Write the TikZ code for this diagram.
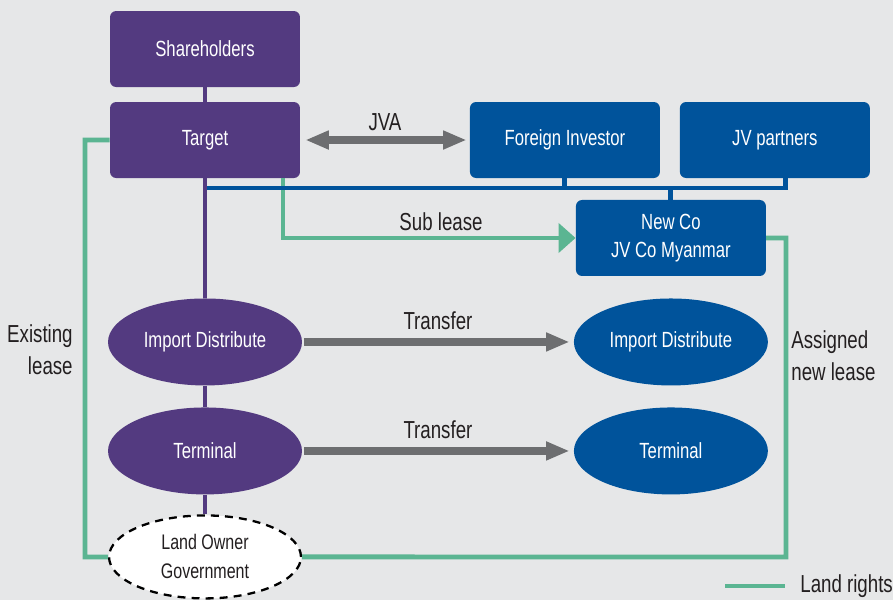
\documentclass[tikz,border=0pt]{standalone}
\usepackage{fontspec}
\setmainfont{Liberation Sans}[FakeStretch=0.76]
\usetikzlibrary{positioning}
\usetikzlibrary{shapes.geometric}
\usetikzlibrary{arrows.meta}
\definecolor{bgc}{HTML}{E6E7E8}
\definecolor{purp}{HTML}{533A80}
\definecolor{navy}{HTML}{00539B}
\definecolor{lgreen}{HTML}{5BB592}
\definecolor{dgray}{HTML}{6D6E70}
\definecolor{txt}{HTML}{231F20}
\tikzset{rbox/.style={rounded corners=3.5pt, minimum width=3.8cm, minimum height=1.52cm, text=white, align=center, inner sep=0pt, font=\fontsize{12.5}{16}\selectfont}}
\tikzset{pbox/.style={rbox, fill=purp}}
\tikzset{bbox/.style={rbox, fill=navy}}
\tikzset{oval/.style={ellipse, minimum width=3.88cm, minimum height=1.74cm, text=white, inner sep=0pt, font=\fontsize{12.5}{16}\selectfont}}
\tikzset{pell/.style={oval, fill=purp}}
\tikzset{bell/.style={oval, fill=navy}}
\tikzset{lown/.style={ellipse, draw=black, fill=white, line width=1.3pt, dash pattern=on 4.5pt off 3.5pt, minimum width=3.84cm, minimum height=1.66cm, inner sep=0pt, align=center, text=txt, font=\fontsize{12}{16.5}\selectfont}}
\tikzset{lbl/.style={text=txt, inner sep=0pt, font=\fontsize{14}{18}\selectfont}}
\tikzset{pline/.style={purp, line width=2.8pt}}
\tikzset{bline/.style={navy, line width=2.8pt}}
\tikzset{land/.style={lgreen, line width=2.8pt}}
\tikzset{garr/.style={dgray, line width=4.5pt, -{Triangle[length=0.47cm,width=0.35cm]}}}

\begin{document}
\begin{tikzpicture}[x=0.02cm, y=-0.02cm]
        \useasboundingbox (0,0) rectangle (893,600);
        \fill[bgc] (0,0) rectangle (893,600);

        \node[pbox] (tg) at (205,140) {Target};
        \node[pbox, on grid, above=1.82cm of tg] (sh) {Shareholders};
        \node[bbox, on grid, right=7.2cm of tg] (fi) {Foreign Investor};
        \node[bbox, on grid, right=4.2cm of fi] (jv) {JV partners};

        \node[pell, on grid, below=4.04cm of tg] (impL) {Import Distribute};
        \node[pell, on grid, below=2.18cm of impL] (termL) {Terminal};
        \node[lown, on grid, below=2.12cm of termL] (lo) {Land Owner\\Government};

        \node[bell, on grid, right=9.32cm of impL] (impR) {Import Distribute};
        \node[bell, on grid, right=9.32cm of termL] (termR) {Terminal};
        \node[bbox, on grid, above=2.08cm of impR] (nc) {New Co\\JV Co Myanmar};

        \node[lbl, anchor=east, align=right] (exl) at (73,350) {Existing\\lease};
        \node[lbl, anchor=west, align=left] (anl) at (791,356) {Assigned\\new lease};
        \node[lbl, anchor=west] (lgd) at (800,586) {Land rights};

        \coordinate (bus) at (205,188);
        \coordinate (el) at (85,557);
        \coordinate (al) at (786,557);
        \coordinate (lg) at (725,586);

        % land rights
        \draw[land] (tg.west) -| (el) -- (lo);
        \draw[land] (lo) -- (al) |- (nc.east);
        \draw[land, -{Triangle[length=0.34cm,width=0.58cm]}] ([xshift=1.56cm]tg.south) |- node[lbl, pos=0.77, anchor=south, yshift=0.1cm] {Sub lease} (nc.west);
        \draw[land] (lg) -- ([xshift=-0.3cm]lgd.west);

        % ownership
        \draw[bline] (bus) -| ([xshift=0.22cm]jv.south);
        \draw[bline] (fi) -- (fi |- bus);
        \draw[bline] (nc) -- (nc |- bus);
        \draw[pline] (sh) -- (tg);
        \draw[pline] (tg) -- (impL) -- (termL) -- (lo);

        % agreements
        \draw[garr, {Triangle[length=0.47cm,width=0.35cm]}-{Triangle[length=0.47cm,width=0.35cm]}, shorten <=0.1cm, shorten >=0.06cm] (tg) -- node[lbl, anchor=south, yshift=0.1cm] {JVA} (fi);
        \draw[garr, shorten <=0.04cm, shorten >=0.08cm] (impL) -- node[lbl, anchor=south, yshift=0.16cm] {Transfer} (impR);
        \draw[garr, shorten <=0.04cm, shorten >=0.08cm] (termL) -- node[lbl, anchor=south, yshift=0.16cm] {Transfer} (termR);
\end{tikzpicture}
\end{document}
